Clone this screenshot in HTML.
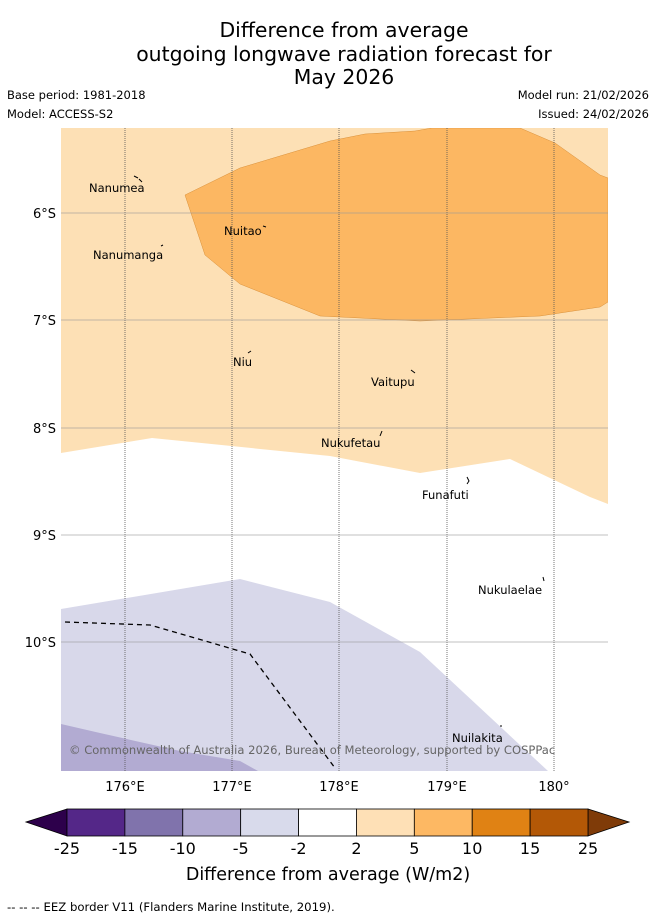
<!DOCTYPE html>
<html><head><meta charset="utf-8"><style>
body{margin:0;background:#fff;width:655px;height:919px;overflow:hidden;font-family:"Liberation Sans","DejaVu Sans",sans-serif}
svg text{font-family:"DejaVu Sans","Liberation Sans",sans-serif}
</style></head><body>
<svg width="655" height="919">
<g font-size="20.4" text-anchor="middle" fill="#000">
<text x="344" y="37">Difference from average</text>
<text x="344" y="61">outgoing longwave radiation forecast for</text>
<text x="344" y="84">May 2026</text></g>
<g font-size="11.5" fill="#000">
<text x="7" y="99">Base period: 1981-2018</text>
<text x="7" y="118">Model: ACCESS-S2</text>
<text x="649" y="99" text-anchor="end">Model run: 21/02/2026</text>
<text x="649" y="118" text-anchor="end">Issued: 24/02/2026</text></g>
<defs><clipPath id="mc"><rect x="61" y="128" width="547" height="643"/></clipPath></defs>
<g clip-path="url(#mc)">
<rect x="61" y="128" width="547" height="643" fill="#fff"/>
<polygon fill="#fde0b5" points="61,128 608,128 608,504 590,497 510,459 420,473 330,456 152,438 61,453"/>
<polygon fill="#fcb762" stroke="#d9903a" stroke-width="0.5" points="185,195 240,168 330,141 365,134 415,131 432,128 520,128 555,143 600,175 608,178 608,302 600,307 540,316 420,321 320,316 240,284 205,255"/>
<polygon fill="#d8d8ea" points="61,609 240,579 330,602 420,652 548,771 61,771"/>
<polygon fill="#b2abd2" points="61,724 100,733 180,751 240,761 258,771 61,771"/>
<g stroke="#555" stroke-width="0.8" stroke-dasharray="1,1">
<line x1="125" y1="128" x2="125" y2="771"/><line x1="232" y1="128" x2="232" y2="771"/><line x1="339" y1="128" x2="339" y2="771"/><line x1="447" y1="128" x2="447" y2="771"/><line x1="554" y1="128" x2="554" y2="771"/></g>
<g stroke="#999" stroke-width="0.8" opacity="0.8">
<line x1="61" y1="213" x2="608" y2="213"/><line x1="61" y1="320" x2="608" y2="320"/><line x1="61" y1="428" x2="608" y2="428"/><line x1="61" y1="535" x2="608" y2="535"/><line x1="61" y1="642" x2="608" y2="642"/></g>
<polyline fill="none" stroke="#000" stroke-width="1.3" stroke-dasharray="5,4" points="65,622 150,625 250,654 335,768"/>
<g stroke="#000" stroke-width="1" fill="none">
<path d="M134,176 l4,2 M139,179 l3,3"/><path d="M161,246 l2,-1"/><path d="M263,226 l3,1"/><path d="M248,353 l3,-2"/><path d="M411,370 l4,3"/><path d="M382,431 l-2,5"/><path d="M467,477 l2,4 l-2,3"/><path d="M543,577 l1,4"/><path d="M500,726 l2,0"/></g>
<g font-size="11.5" fill="#000">
<text x="89" y="192">Nanumea</text><text x="93" y="259">Nanumanga</text><text x="224" y="235">Nuitao</text><text x="233" y="366">Niu</text><text x="371" y="386">Vaitupu</text><text x="321" y="447">Nukufetau</text><text x="422" y="499">Funafuti</text><text x="478" y="594">Nukulaelae</text><text x="452" y="742">Nuilakita</text></g>
<text x="69" y="754" font-size="11.55" fill="#666">© Commonwealth of Australia 2026, Bureau of Meteorology, supported by COSPPac</text>
</g>
<g font-size="13" fill="#000" text-anchor="end">
<text x="56" y="218">6°S</text><text x="56" y="325">7°S</text><text x="56" y="433">8°S</text><text x="56" y="540">9°S</text><text x="56" y="647">10°S</text></g>
<g font-size="13" fill="#000" text-anchor="middle">
<text x="125" y="791">176°E</text><text x="232" y="791">177°E</text><text x="339" y="791">178°E</text><text x="447" y="791">179°E</text><text x="554" y="791">180°</text></g>
<g id="cb" stroke="#000" stroke-width="0.8"></g>
<text x="328" y="880" font-size="17.5" text-anchor="middle">Difference from average (W/m2)</text>
<text x="7" y="911" font-size="11.7">--  --  -- EEZ border V11 (Flanders Marine Institute, 2019).</text>
</svg>
<script>
const ticks=["-25","-15","-10","-5","-2","2","5","10","15","25"];
const colors=["#542788","#8073ac","#b2abd2","#d8daeb","#ffffff","#fee0b6","#fdb863","#e08214","#b35806"];
const ns="http://www.w3.org/2000/svg",g=document.getElementById('cb');
const x0=67,x1=588,y0=809,y1=836,w=(x1-x0)/colors.length;
function mk(t,a){const e=document.createElementNS(ns,t);for(const k in a)e.setAttribute(k,a[k]);g.appendChild(e);return e;}
let l=mk('polygon',{points:`26,822 ${x0},${y0} ${x0},${y1}`,fill:'#2d004b'});


let r=mk('polygon',{points:`${x1},${y0} 629,822 ${x1},${y1}`,fill:'#7f3b08'});


colors.forEach((c,i)=>{const e=mk('rect',{x:x0+i*w,y:y0,width:w,height:y1-y0,fill:c});

});
ticks.forEach((t,i)=>{const e=mk('text',{x:x0+i*w,y:854,'font-size':16,'text-anchor':'middle',stroke:'none',fill:'#000'});e.textContent=t;

});
</script>
</body></html>
